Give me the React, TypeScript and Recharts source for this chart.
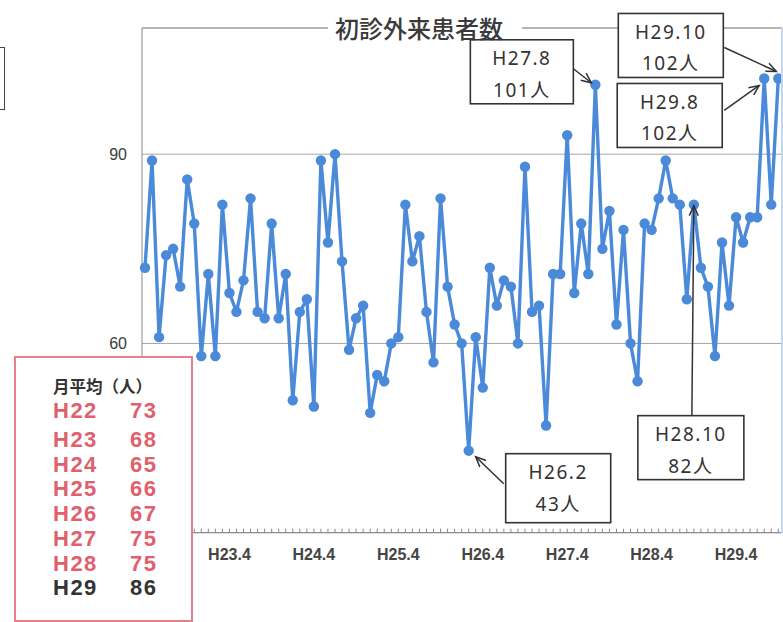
import { LineChart, Line, XAxis, YAxis, CartesianGrid, ReferenceDot, ReferenceLine } from 'recharts'

// monthly first-visit outpatients, by fiscal year (Apr -> Mar)
const FISCAL_YEARS = [22, 23, 24, 25, 26, 27, 28, 29]
const MONTHS = [4, 5, 6, 7, 8, 9, 10, 11, 12, 1, 2, 3]
const PATIENTS_H22 = [72, 89, 61, 74, 75, 69, 86, 79, 58, 71, 58, 82]
const PATIENTS_H23 = [68, 65, 70, 83, 65, 64, 79, 64, 71, 51, 65, 67]
const PATIENTS_H24 = [50, 89, 76, 90, 73, 59, 64, 66, 49, 55, 54, 60]
const PATIENTS_H25 = [61, 82, 73, 77, 65, 57, 83, 69, 63, 60, 43, 61]
const PATIENTS_H26 = [53, 72, 66, 70, 69, 60, 88, 65, 66, 47, 71, 71]
const PATIENTS_H27 = [93, 68, 79, 71, 101, 75, 81, 63, 78, 60, 54, 79]
const PATIENTS_H28 = [78, 83, 89, 83, 82, 67, 82, 72, 69, 58, 76, 66]
const PATIENTS_H29 = [80, 76, 80, 80, 102, 82, 102]

const MONTHLY_AVG = [73, 68, 65, 66, 67, 75, 75, 86]
const X_TICK_LABELS = ['H23.4', 'H24.4', 'H25.4', 'H26.4', 'H27.4', 'H28.4', 'H29.4']
const Y_TICKS = [60, 90] // the 30 tick is hidden behind the averages box
const CALLOUT_MONTHS = ['H26.2', 'H27.8', 'H28.10', 'H29.8', 'H29.10']

const BY_YEAR = [PATIENTS_H22, PATIENTS_H23, PATIENTS_H24, PATIENTS_H25, PATIENTS_H26, PATIENTS_H27, PATIENTS_H28, PATIENTS_H29]

const data = BY_YEAR.flatMap((vals, i) =>
  vals.map((v, j) => {
    const m = MONTHS[j]
    const y = m >= 4 ? FISCAL_YEARS[i] : FISCAL_YEARS[i] + 1
    return { month: `H${y}.${m}`, value: v }
  })
)

const BLUE = '#4a8ad8'
const INK = '#333'
const RED = '#e0606d'
const LATIN = "'Noto Sans', 'Noto Sans CJK JP', sans-serif"
const ARIAL = "'Liberation Sans', Arial, sans-serif"

// box offsets relative to the pointed-at dot
const CALLOUT_LAYOUT: Record<string, { bx: number; by: number; bw: number; bh: number; sx: number; sy: number; tx: number; ty: number }> = {
  'H26.2': { bx: 37, by: 3, bw: 105, bh: 69, sx: 35, sy: 33, tx: 7, ty: 6 },
  'H27.8': { bx: -125, by: -45, bw: 103, bh: 64, sx: -22, sy: -16, tx: -4, ty: -2 },
  'H28.10': { bx: -56, by: 211, bw: 106, bh: 64, sx: -2, sy: 211, tx: 0, ty: 1 },
  'H29.8': { bx: -147, by: 5, bw: 105, bh: 64, sx: -40, sy: 32, tx: -5, ty: 7 },
  'H29.10': { bx: -160, by: -65, bw: 105, bh: 64, sx: -54, sy: -31, tx: -2, ty: -7 },
}

function Callout(props: any) {
  const { cx, cy, month, value } = props
  const L = CALLOUT_LAYOUT[month]
  if (cx == null || cy == null || !L) return null
  const x0 = cx + L.bx
  const y0 = cy + L.by
  const sx = cx + L.sx
  const sy = cy + L.sy
  const tx = cx + L.tx
  const ty = cy + L.ty
  const a = Math.atan2(ty - sy, tx - sx)
  const head = 11
  const spread = 0.42
  const p1 = `${tx - head * Math.cos(a - spread)},${ty - head * Math.sin(a - spread)}`
  const p2 = `${tx - head * Math.cos(a + spread)},${ty - head * Math.sin(a + spread)}`
  return (
    <g>
      <line x1={sx} y1={sy} x2={tx} y2={ty} stroke={INK} strokeWidth={1.5} />
      <polyline points={`${p1} ${tx},${ty} ${p2}`} fill="none" stroke={INK} strokeWidth={1.5} />
      <rect x={x0} y={y0} width={L.bw} height={L.bh} fill="#fff" stroke={INK} strokeWidth={1.6} />
      <text x={x0 + L.bw / 2} y={y0 + 18.5} textAnchor="middle" dominantBaseline="central" fontSize={19} letterSpacing={1.5} fill={INK} fontFamily={LATIN}>
        {month}
      </text>
      <text x={x0 + L.bw / 2} y={y0 + 50} textAnchor="middle" dominantBaseline="central" fontSize={19} letterSpacing={1.5} fill={INK} fontFamily={LATIN}>
        {`${value}人`}
      </text>
    </g>
  )
}

function MonthTick(props: any) {
  const { x, y, payload } = props
  const show = X_TICK_LABELS.includes(payload.value)
  return (
    <g>
      <line x1={x} x2={x} y1={y - 4} y2={y} stroke="#888" strokeWidth={1} />
      {show && (
        <text x={x} y={y + 27} textAnchor="middle" fontSize={16} fontWeight={700} fill="#444" fontFamily={ARIAL}>
          {payload.value}
        </text>
      )}
    </g>
  )
}

export default function App() {
  return (
    <div style={{ position: 'fixed', left: 0, top: 0, width: 783, height: 622, background: '#fff', overflow: 'hidden' }}>
      <LineChart width={783} height={622} data={data} margin={{ top: 28, right: 1, bottom: 59.3, left: 82 }}>
        <CartesianGrid vertical={false} stroke="#a5a5a5" />
        <XAxis
          dataKey="month"
          interval={0}
          height={30}
          tickSize={0}
          tickMargin={0}
          tickLine={false}
          tick={<MonthTick />}
          stroke="#888"
          padding={{ left: 3, right: 3.7 }}
        />
        <YAxis
          domain={[30, 110]}
          ticks={Y_TICKS}
          width={60}
          tickLine={false}
          tickSize={0}
          tickMargin={15}
          stroke="#888"
          tick={{ fontSize: 16, fill: '#3a3a3a', fontFamily: ARIAL }}
        />
        <ReferenceLine y={110} stroke="#999" />
        <Line
          type="linear"
          dataKey="value"
          stroke={BLUE}
          strokeWidth={3.4}
          dot={{ r: 5.2, fill: BLUE, stroke: 'none' }}
          isAnimationActive={false}
        />
        {CALLOUT_MONTHS.map((m) => {
          const d = data.find((p) => p.month === m)
          return (
            <ReferenceDot
              key={m}
              x={m}
              y={d ? d.value : 0}
              r={0}
              shape={(p: any) => <Callout {...p} month={m} value={d ? d.value : 0} />}
            />
          )
        })}
      </LineChart>

      {/* chart title sits on the top border */}
      <div
        style={{
          position: 'absolute', left: 328, top: 18, width: 194, height: 20, background: '#fff',
          fontFamily: "'Noto Sans CJK JP', sans-serif", fontWeight: 500, fontSize: 24, lineHeight: '20px', color: '#3a3a3a',
          paddingLeft: 7, boxSizing: 'border-box', whiteSpace: 'nowrap',
        }}
      >
        初診外来患者数
      </div>

      {/* faint right edge of plot */}
      <div style={{ position: 'absolute', left: 781, top: 28, width: 1.5, height: 505, background: '#c2d6ec' }} />

      {/* fragment of a neighbouring box at the top left */}
      <div style={{ position: 'absolute', left: -20, top: 47, width: 25, height: 63, border: '1.5px solid #444', boxSizing: 'border-box' }} />

      {/* yearly averages */}
      <div
        style={{
          position: 'absolute', left: 14, top: 356, width: 179, height: 266, background: '#fff',
          border: '2px solid #e3808a', boxSizing: 'border-box',
        }}
      >
        <div
          style={{
            position: 'absolute', left: 37, top: 18, height: 20, lineHeight: '20px',
            fontFamily: "'Noto Sans CJK JP', sans-serif", fontWeight: 700, fontSize: 16.5, color: INK, whiteSpace: 'nowrap',
          }}
        >
          月平均（人）
        </div>
        {FISCAL_YEARS.map((fy, i) => {
          const top = i === 0 ? 41 : 70 + (i - 1) * 24.7
          const last = i === FISCAL_YEARS.length - 1
          return (
            <div
              key={fy}
              style={{
                position: 'absolute', left: 37, top, width: 103, height: 24, lineHeight: '24px',
                display: 'flex', justifyContent: 'space-between',
                fontFamily: ARIAL, fontWeight: 700, fontSize: 22, letterSpacing: 1.5, color: last ? INK : RED,
              }}
            >
              <span>{`H${fy}`}</span>
              <span style={{ marginRight: -1.5 }}>{MONTHLY_AVG[i]}</span>
            </div>
          )
        })}
      </div>
    </div>
  )
}
